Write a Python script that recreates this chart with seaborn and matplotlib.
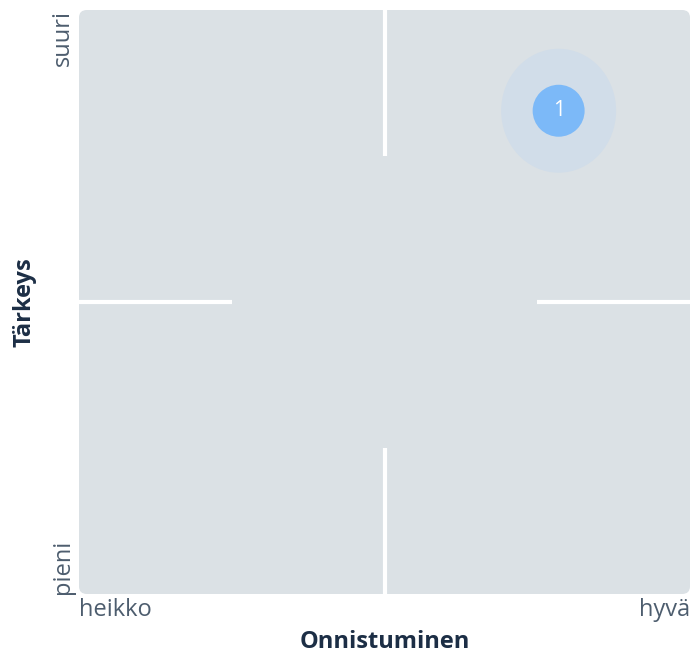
import matplotlib
matplotlib.use("Agg")
import matplotlib.pyplot as plt
import seaborn as sns
import pandas as pd
from matplotlib.patches import FancyBboxPatch, Ellipse

# Data
item_labels = ["1"]
success = [4.14]      # Onnistuminen (1 = heikko, 5 = hyvä)
importance = [4.31]   # Tärkeys (1 = pieni, 5 = suuri)
x_tick_labels = ["heikko", "hyvä"]
y_tick_labels = ["pieni", "suuri"]
x_title = "Onnistuminen"
y_title = "Tärkeys"

sns.set_theme(style="white")
plt.rcParams["font.family"] = ["Open Sans", "DejaVu Sans"]

W, H, DPI = 693, 656, 100
fig = plt.figure(figsize=(W / DPI, H / DPI), dpi=DPI)
left, right, top, bottom = 79, 690, 10, 594
ax = fig.add_axes([left / W, 1 - bottom / H, (right - left) / W, (bottom - top) / H])

xmin, xmax, ymin, ymax = 1, 5, 1, 5
ax.set_xlim(xmin, xmax)
ax.set_ylim(ymin, ymax)
ax.patch.set_visible(False)
for s in ax.spines.values():
    s.set_visible(False)

bg = FancyBboxPatch((0, 0), 1, 1, boxstyle="round,pad=0,rounding_size=0.013",
                    transform=ax.transAxes, facecolor="#dbe1e5", edgecolor="none",
                    zorder=0, clip_on=False)
ax.add_patch(bg)

# quadrant cross segments
lc = "white"
lw = 3
ax.plot([0.5, 0.5], [1, 0.75], transform=ax.transAxes, color=lc, lw=lw, zorder=1, solid_capstyle="butt")
ax.plot([0.5, 0.5], [0, 0.25], transform=ax.transAxes, color=lc, lw=lw, zorder=1, solid_capstyle="butt")
ax.plot([0, 0.25], [0.5, 0.5], transform=ax.transAxes, color=lc, lw=lw, zorder=1, solid_capstyle="butt")
ax.plot([0.75, 1], [0.5, 0.5], transform=ax.transAxes, color=lc, lw=lw, zorder=1, solid_capstyle="butt")

df = pd.DataFrame({"x": success, "y": importance, "label": item_labels})

# halo
xspan, yspan = xmax - xmin, ymax - ymin
for _, r in df.iterrows():
    ax.add_patch(Ellipse((r["x"], r["y"]), width=115 / (right - left) * xspan,
                         height=124 / (bottom - top) * yspan,
                         facecolor="#d1dde9", edgecolor="none", zorder=2))

sns.scatterplot(data=df, x="x", y="y", ax=ax, s=1400, color="#7cb9f8",
                edgecolor="none", zorder=3, legend=False)
for _, r in df.iterrows():
    ax.text(r["x"], r["y"], r["label"], color="white", fontsize=15,
            ha="center", va="center", zorder=4)

tick_color = "#4d5d6e"
ax.set_xticks([xmin, xmax])
ax.set_xticklabels(x_tick_labels, fontsize=17, color=tick_color)
xl = ax.get_xticklabels()
xl[0].set_ha("left")
xl[1].set_ha("right")
ax.set_yticks([ymin, ymax])
ax.set_yticklabels(y_tick_labels, fontsize=17, color=tick_color, rotation=90)
yl = ax.get_yticklabels()
yl[0].set_va("bottom")
yl[1].set_va("top")
ax.tick_params(axis="both", length=0, pad=3)

ax.set_xlabel(x_title, fontsize=17, fontweight="bold", color="#1c2e45", labelpad=6)
ax.set_ylabel(y_title, fontsize=17, fontweight="bold", color="#1c2e45", labelpad=10)

fig.savefig("out.png", dpi=DPI)
